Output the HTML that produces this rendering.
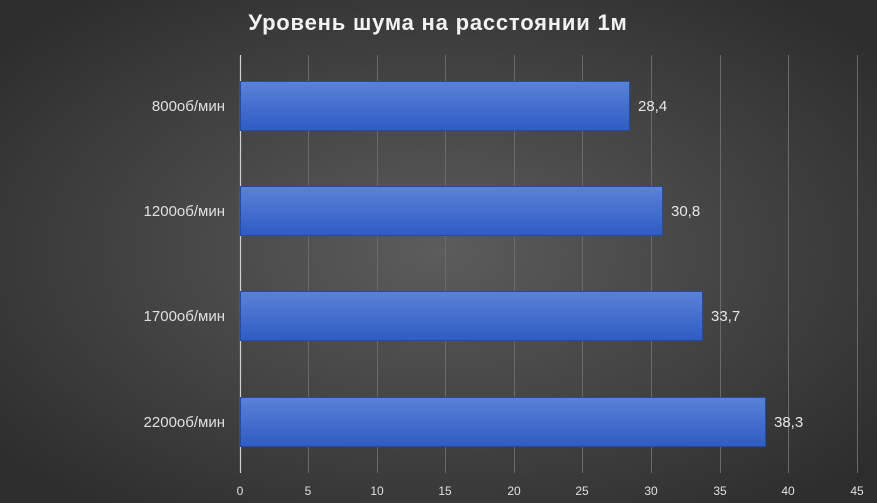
<!DOCTYPE html>
<html><head><meta charset="utf-8"><style>
html,body{margin:0;padding:0;overflow:hidden;}
body{width:877px;height:503px;background:#404040;}
svg{display:block;}
</style></head><body>
<svg width="877" height="503" xmlns="http://www.w3.org/2000/svg" font-family="'Liberation Sans', sans-serif">
<defs>
<radialGradient id="bg" cx="50%" cy="50%" r="65%">
<stop offset="0" stop-color="#5c5c5c"/><stop offset="1" stop-color="#2d2d2d"/>
</radialGradient>
<linearGradient id="bar" x1="0" y1="0" x2="0" y2="1">
<stop offset="0" stop-color="#5a82d8"/><stop offset="1" stop-color="#2f5cc4"/>
</linearGradient>
</defs>
<rect width="877" height="503" fill="url(#bg)"/>
<text x="438" y="30" text-anchor="middle" fill="#f2f2f2" font-size="22" font-weight="bold" letter-spacing="0.8">Уровень шума на расстоянии 1м</text>
<g stroke="#6a6a6a" stroke-width="1">
<line x1="308.5" y1="55" x2="308.5" y2="473"/>
<line x1="377.5" y1="55" x2="377.5" y2="473"/>
<line x1="445.5" y1="55" x2="445.5" y2="473"/>
<line x1="514.5" y1="55" x2="514.5" y2="473"/>
<line x1="582.5" y1="55" x2="582.5" y2="473"/>
<line x1="651.5" y1="55" x2="651.5" y2="473"/>
<line x1="720.5" y1="55" x2="720.5" y2="473"/>
<line x1="788.5" y1="55" x2="788.5" y2="473"/>
<line x1="857.5" y1="55" x2="857.5" y2="473"/>
</g>
<line x1="240.5" y1="55" x2="240.5" y2="473" stroke="#cfcfcf" stroke-width="1.2"/>
<g fill="url(#bar)" stroke="#274a9c" stroke-width="1">
<rect x="240.5" y="81.5" width="389" height="49"/>
<rect x="240.5" y="186.5" width="422" height="49"/>
<rect x="240.5" y="291.5" width="462" height="49"/>
<rect x="240.5" y="397.5" width="525" height="49"/>
</g>
<g fill="#e6e6e6" font-size="15">
<text x="638" y="111">28,4</text>
<text x="671" y="216">30,8</text>
<text x="711" y="321">33,7</text>
<text x="774" y="427">38,3</text>
</g>
<g fill="#e0e0e0" font-size="15" text-anchor="end">
<text x="225" y="111">800об/мин</text>
<text x="225" y="216">1200об/мин</text>
<text x="225" y="321">1700об/мин</text>
<text x="225" y="427">2200об/мин</text>
</g>
<g fill="#e0e0e0" font-size="12" text-anchor="middle">
<text x="240" y="495">0</text><text x="308" y="495">5</text><text x="377" y="495">10</text>
<text x="445" y="495">15</text><text x="514" y="495">20</text><text x="582" y="495">25</text>
<text x="651" y="495">30</text><text x="720" y="495">35</text><text x="788" y="495">40</text>
<text x="857" y="495">45</text>
</g>
</svg>
</body></html>
